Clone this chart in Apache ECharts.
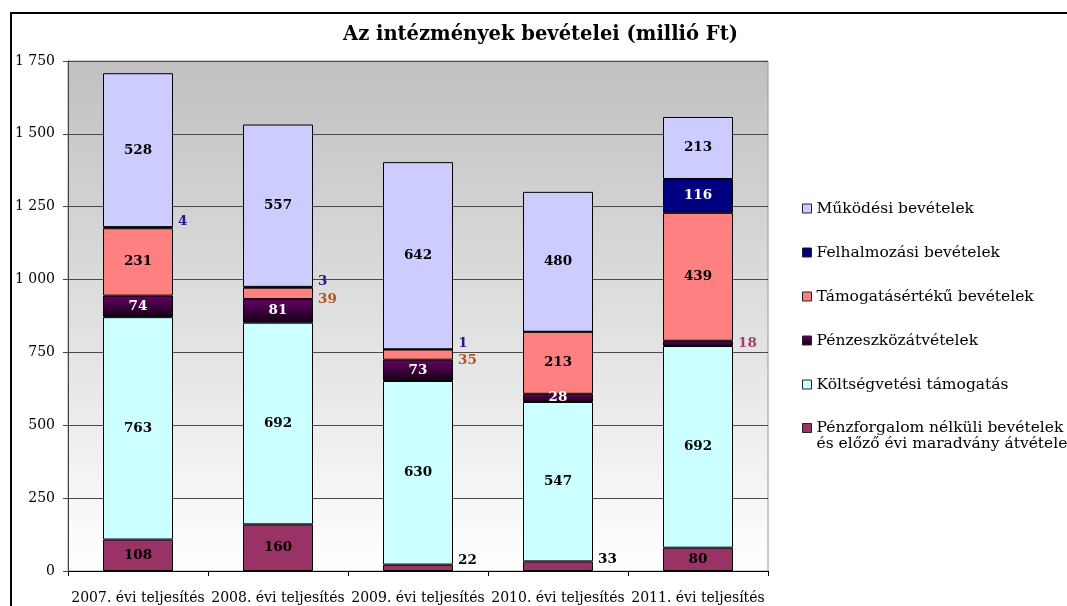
<!DOCTYPE html>
<html>
<head>
<meta charset="utf-8">
<script src="https://cdn.jsdelivr.net/npm/echarts@6/dist/echarts.min.js"></script>
<style>
  html, body { margin: 0; padding: 0; background: #fff; }
  #chart { width: 1067px; height: 606px; }
</style>
</head>
<body>
<div id="chart"></div>
<script>
const years = ['2007. évi teljesítés', '2008. évi teljesítés', '2009. évi teljesítés', '2010. évi teljesítés', '2011. évi teljesítés'];

// stacked from bottom to top
const penzforgalom = [108, 160, 22, 33, 80];
const koltsegvetesi = [763, 692, 630, 547, 692];
const penzeszkoz = [74, 81, 73, 28, 18];
const tamogatasertek = [231, 39, 35, 213, 439];
const felhalmozasi = [4, 3, 1, 0, 116];
const mukodesi = [528, 557, 642, 480, 213];

const yTicks = [0, 250, 500, 750, 1000, 1250, 1500, 1750];

const FONT = 'DejaVu Serif';

const names = {
    penzforgalom: 'Pénzforgalom nélküli bevételek és előző évi maradvány átvétele',
    koltsegvetesi: 'Költségvetési támogatás',
    penzeszkoz: 'Pénzeszközátvételek',
    tamogatasertek: 'Támogatásértékű bevételek',
    felhalmozasi: 'Felhalmozási bevételek',
    mukodesi: 'Működési bevételek'
};

// small segments get their label outside, to the right of the bar
function makeSeries(name, values, color, cfg) {
    return {
        name: name,
        type: 'bar',
        stack: 'total',
        barWidth: '50%',
        itemStyle: { color: color, borderColor: '#000', borderWidth: 1 },
        data: values.map(v => {
            let label;
            if (v === 0) {
                label = { show: false };
            } else if (v < cfg.limit) {
                label = {
                    show: true, position: 'right', distance: 5,
                    offset: [0, cfg.dy || 0], color: cfg.outColor
                };
            } else {
                label = { show: true, position: 'inside', color: cfg.inColor };
            }
            return { value: v, label: label };
        }),
        label: { fontFamily: FONT, fontWeight: 'bold', fontSize: 13.5 }
    };
}

const chart = echarts.init(document.getElementById('chart'));

chart.setOption({
    animation: false,
    backgroundColor: '#fff',
    title: {
        text: 'Az intézmények bevételei (millió Ft)',
        left: 343,
        top: 25,
        padding: 0,
        textStyle: { fontFamily: FONT, fontWeight: 'bold', fontSize: 19.5, color: '#000' }
    },
    // chart frame, only its top and left edges are inside the picture
    graphic: [{
        type: 'polyline',
        shape: { points: [[11, 700], [11, 13], [1200, 13]] },
        style: { fill: null, stroke: '#000', lineWidth: 2 },
        silent: true
    }],
    grid: {
        left: 68, right: 299, top: 61, bottom: 35,
        show: true,
        borderColor: '#999', borderWidth: 1,
        backgroundColor: {
            type: 'linear', x: 0, y: 0, x2: 0, y2: 1,
            colorStops: [{ offset: 0, color: '#c0c0c0' }, { offset: 1, color: '#ffffff' }]
        }
    },
    legend: [{
        orient: 'vertical',
        left: 802, top: 200,
        padding: 0,
        itemWidth: 9, itemHeight: 9, itemGap: 27,
        icon: 'rect',
        data: [names.mukodesi, names.felhalmozasi, names.tamogatasertek, names.penzeszkoz, names.koltsegvetesi],
        itemStyle: { borderColor: '#222', borderWidth: 1 },
        textStyle: { fontFamily: FONT, fontSize: 15.5, color: '#000', lineHeight: 17 }
    }, {
        orient: 'vertical',
        left: 802, top: 404,
        padding: 0,
        itemWidth: 9, itemHeight: 9,
        icon: 'rect',
        data: [names.penzforgalom],
        // leading empty line keeps the marker level with the first line
        formatter: n => '\n' + n.replace(' és ', '\nés '),
        itemStyle: { borderColor: '#222', borderWidth: 1 },
        textStyle: { fontFamily: FONT, fontSize: 15.5, color: '#000', lineHeight: 16 }
    }],
    xAxis: {
        type: 'category',
        data: years,
        axisLine: { lineStyle: { color: '#000', width: 1 } },
        axisTick: { show: true, length: 5, lineStyle: { color: '#000' } },
        axisLabel: { fontFamily: FONT, fontSize: 14, color: '#000', margin: 20, interval: 0 }
    },
    yAxis: {
        type: 'value',
        min: yTicks[0],
        max: yTicks[yTicks.length - 1],
        interval: yTicks[1] - yTicks[0],
        axisLine: { show: true, lineStyle: { color: '#444' } },
        axisTick: { show: true, length: 5, lineStyle: { color: '#444' } },
        splitLine: { lineStyle: { color: '#4a4a4a', width: 1 } },
        axisLabel: {
            fontFamily: FONT, fontSize: 14, color: '#000', margin: 13,
            formatter: v => v >= 1000 ? Math.floor(v / 1000) + ' ' + String(v % 1000).padStart(3, '0') : String(v)
        }
    },
    series: [
        makeSeries(names.penzforgalom, penzforgalom, '#993366', { limit: 45, inColor: '#000', outColor: '#000', dy: -7 }),
        makeSeries(names.koltsegvetesi, koltsegvetesi, '#ccffff', { limit: 45, inColor: '#000', outColor: '#000' }),
        makeSeries(names.penzeszkoz, penzeszkoz,
            { type: 'linear', x: 0, y: 0, x2: 0, y2: 1, colorStops: [{ offset: 0, color: '#660066' }, { offset: 1, color: '#140014' }] },
            { limit: 25, inColor: '#fff', outColor: '#a3406f' }),
        makeSeries(names.tamogatasertek, tamogatasertek, '#ff8080', { limit: 45, inColor: '#000', outColor: '#b8541c', dy: 6 }),
        makeSeries(names.felhalmozasi, felhalmozasi, '#000080', { limit: 45, inColor: '#fff', outColor: '#1c1c8c', dy: -6 }),
        makeSeries(names.mukodesi, mukodesi, '#ccccff', { limit: 45, inColor: '#000', outColor: '#000' })
    ]
});
</script>
</body>
</html>
